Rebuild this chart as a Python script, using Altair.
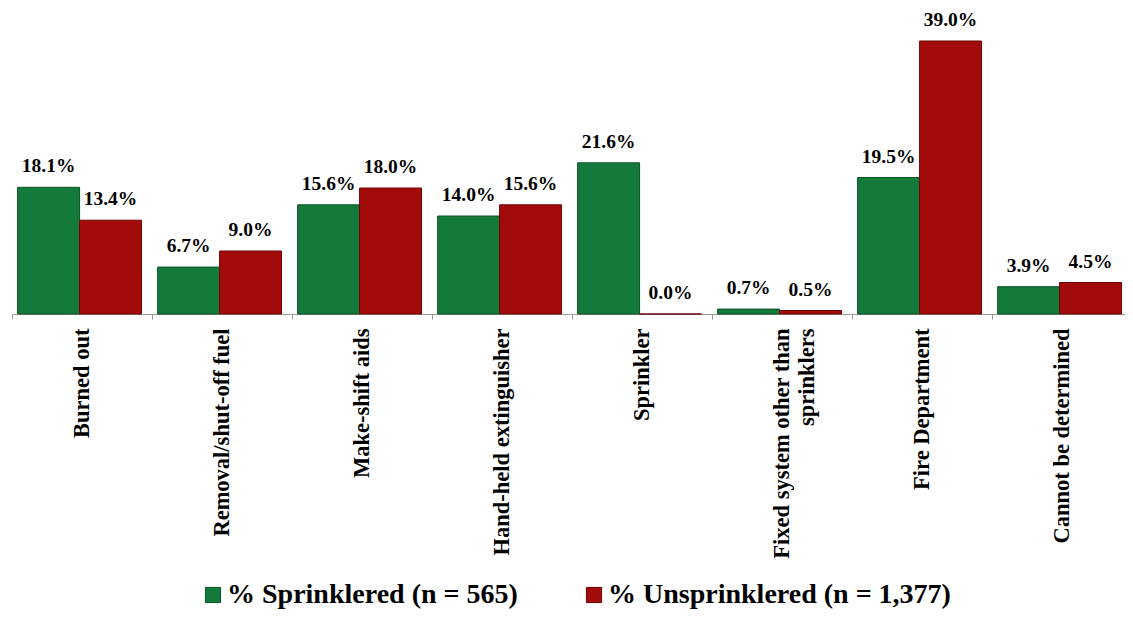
import altair as alt
import pandas as pd

categories = ["Burned out", "Removal/shut-off fuel", "Make-shift aids", "Hand-held extinguisher",
              "Sprinkler", "Fixed system other than|sprinklers", "Fire Department", "Cannot be determined"]
series_names = ["% Sprinklered (n = 565)", "% Unsprinklered (n = 1,377)"]
sprinklered = [18.1, 6.7, 15.6, 14.0, 21.6, 0.7, 19.5, 3.9]
unsprinklered = [13.4, 9.0, 18.0, 15.6, 0.0, 0.5, 39.0, 4.5]

rows = []
for i, c in enumerate(categories):
    rows.append({"cat": c, "series": series_names[0], "v": sprinklered[i]})
    rows.append({"cat": c, "series": series_names[1], "v": unsprinklered[i]})
df = pd.DataFrame(rows)
df["label"] = df["v"].map(lambda v: f"{v:.1f}%")

FONT = "Liberation Serif"

x = alt.X("cat:N", sort=categories, title=None,
          scale=alt.Scale(paddingInner=0, paddingOuter=0, range=[0, 1120]),
          axis=alt.Axis(labelAngle=-90, labelAlign="right", labelBaseline="middle",
                        labelExpr="split(datum.label, '|')", labelLineHeight=25,
                        labelFont=FONT, labelFontWeight="bold", labelFontSize=22.5,
                        labelColor="black", labelPadding=9, bandPosition=0,
                        domainColor="#999999", tickColor="#999999", tickSize=5,
                        labelLimit=400))
xo = alt.XOffset("series:N", sort=series_names,
                 scale=alt.Scale(paddingOuter=0.13, paddingInner=0, align=0.35))
y = alt.Y("v:Q", scale=alt.Scale(domain=[0, 42]), axis=None)

bars = alt.Chart(df).mark_bar(strokeWidth=1).encode(
    x=x, xOffset=xo, y=y,
    color=alt.Color("series:N", sort=series_names, title=None,
                    scale=alt.Scale(domain=series_names, range=["#137a3c", "#a30a0a"]),
                    legend=alt.Legend(orient="none", legendX=187, legendY=561, direction="horizontal",
                                      symbolType="square", symbolSize=230, symbolStrokeWidth=1,
                                      labelFont=FONT, labelFontWeight="bold",
                                      labelFontSize=28, labelColor="black", columnPadding=62,
                                      labelOffset=0, labelLimit=500)),
    stroke=alt.Stroke("series:N", sort=series_names, legend=None,
                      scale=alt.Scale(domain=series_names, range=["#0b5227", "#6e0505"])),
)

text = alt.Chart(df).mark_text(font=FONT, fontWeight="bold", fontSize=19.5,
                               baseline="alphabetic", dy=-15, color="black").encode(
    x=x, xOffset=xo, y=y, text="label:N")

chart = alt.layer(bars, text).properties(
    width=1113, height=294,
    padding={"left": 4, "top": 12, "right": 0, "bottom": 296},
    autosize=alt.AutoSizeParams(type="none"),
).configure_view(stroke=None)

chart.save("out.html", embed_options={"renderer": "svg", "actions": False})
